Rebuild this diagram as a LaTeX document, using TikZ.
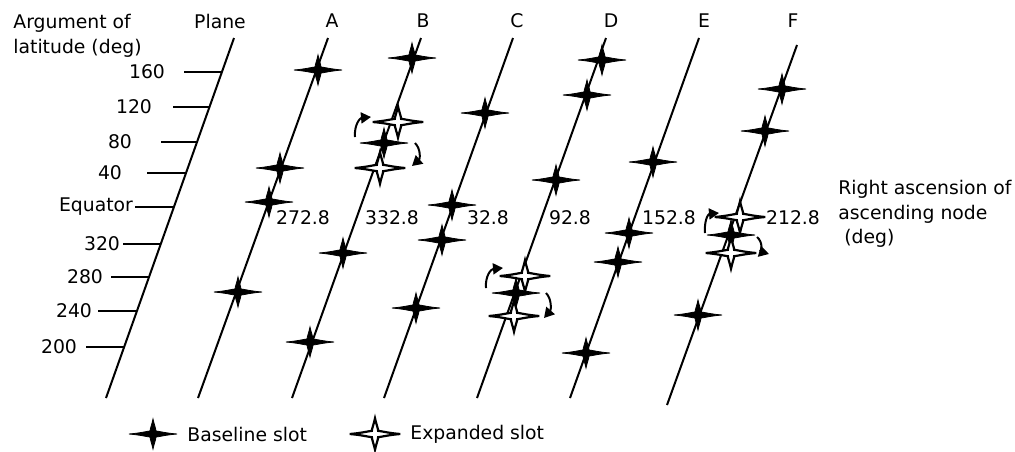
\documentclass[tikz,border=0pt]{standalone}
\usepackage{fontspec}
\setmainfont{DejaVu Sans}
\usetikzlibrary{arrows.meta}
\newcommand{\Slot}{(24,0) .. controls (12,1) and (5,3) .. (3,3) .. controls (3,5) and (1,10) .. (0,15)
  .. controls (-1,10) and (-3,5) .. (-3,3) .. controls (-5,3) and (-12,1) .. (-24,0)
  .. controls (-12,-1) and (-5,-3) .. (-3,-3) .. controls (-3,-5) and (-1,-10) .. (0,-15)
  .. controls (1,-10) and (3,-5) .. (3,-3) .. controls (5,-3) and (12,-1) .. cycle}
\tikzset{
  orbit/.style={line width=1pt},
  lat/.style={line width=1pt},
  lbl/.style={font=\fontsize{9.4}{12.2}\selectfont, inner sep=0pt},
  slide/.style={-{Triangle[length=5pt, width=5.5pt]}, line width=1pt},
  base slot/.pic={\filldraw[line width=0.4pt] \Slot;},
  wide slot/.pic={\filldraw[fill=white, line width=1.1pt, scale=1.05] \Slot;},
}

\begin{document}
\begin{tikzpicture}[x=0.5pt, y=-0.5pt]
    \useasboundingbox (0,0) rectangle (1015,451);
    % headings
    \node[lbl, anchor=north west, align=left] (arg) at (13,14) {Argument of\\latitude (deg)};
    \node[lbl] (pl) at (220,21) {Plane};
    \node[lbl] (a) at (332,21) {A};
    \node[lbl] (b) at (423,21) {B};
    \node[lbl] (c) at (517,21) {C};
    \node[lbl] (d) at (611,21) {D};
    \node[lbl] (e) at (704,21) {E};
    \node[lbl] (f) at (793,21) {F};
    \node[lbl, anchor=north west, align=left] (ra) at (838,180) {Right ascension of\\ascending node\\\ (deg)};
    % latitude scale
    \node[lbl] (t160) at (147,72)  {160};     \draw[lat] (184,72) -- (222,72);
    \node[lbl] (t120) at (134,107) {120};     \draw[lat] (173,107) -- (210,107);
    \node[lbl] (t80)  at (120,142) {80};      \draw[lat] (161,142) -- (198,142);
    \node[lbl] (t40)  at (110,173) {40};      \draw[lat] (147,173) -- (186,173);
    \node[lbl] (teq)  at (96,207)  {Equator}; \draw[lat] (135,207) -- (174,207);
    \node[lbl] (t320) at (102,244) {320};     \draw[lat] (123,244) -- (161,244);
    \node[lbl] (t280) at (85,277)  {280};     \draw[lat] (111,277) -- (149,277);
    \node[lbl] (t240) at (74,311)  {240};     \draw[lat] (98,311) -- (137,311);
    \node[lbl] (t200) at (59,347)  {200};     \draw[lat] (86,347) -- (124,347);
    % orbit planes
    \draw[orbit] (234,38) -- (106,398);
    \draw[orbit] (328,38) -- (198,398);
    \draw[orbit] (421,38) -- (292,398);
    \draw[orbit] (513,38) -- (384,398);
    \draw[orbit] (606,38) -- (477,398);
    \draw[orbit] (699,38) -- (570,398);
    \draw[orbit] (797,45) -- (667,405);
    % ascending nodes
    \node[lbl] (na) at (303,218) {272.8};
    \node[lbl] (nb) at (392,218) {332.8};
    \node[lbl] (nc) at (488,218) {32.8};
    \node[lbl] (nd) at (570,218) {92.8};
    \node[lbl] (ne) at (669,218) {152.8};
    \node[lbl] (nf) at (793,218) {212.8};
    % plane A
    \pic at (318,70) {base slot};
    \pic at (280,168) {base slot};
    \pic at (269,202) {base slot};
    \pic at (238,292) {base slot};
    % plane B
    \pic at (412,58) {base slot};
    \pic at (398,122) {wide slot};
    \pic at (384,143) {base slot};
    \pic at (380,168) {wide slot};
    \pic at (343,253) {base slot};
    \pic at (310,342) {base slot};
    \draw[slide] (355,137) .. controls (354,125) and (360,118) .. (371,117);
    \draw[slide] (415,143) .. controls (421,149) and (420,159) .. (412,166);
    % plane C
    \pic at (485,113) {base slot};
    \pic at (452,205) {base slot};
    \pic at (442,240) {base slot};
    \pic at (416,308) {base slot};
    % plane D
    \pic at (602,60) {base slot};
    \pic at (587,95) {base slot};
    \pic at (556,180) {base slot};
    \pic at (525,276) {wide slot};
    \pic at (516,293) {base slot};
    \pic at (514,316) {wide slot};
    \draw[slide] (486,288) .. controls (485,276) and (491,269) .. (503,268);
    \draw[slide] (546,293) .. controls (552,299) and (551,310) .. (544,318);
    % plane E
    \pic at (653,162) {base slot};
    \pic at (629,233) {base slot};
    \pic at (618,262) {base slot};
    \pic at (586,353) {base slot};
    % plane F
    \pic at (782,89) {base slot};
    \pic at (765,131) {base slot};
    \pic at (740,217) {wide slot};
    \pic at (731,235) {base slot};
    \pic at (731,253) {wide slot};
    \pic at (698,315) {base slot};
    \draw[slide] (705,233) .. controls (704,221) and (708,214) .. (719,213);
    \draw[slide] (757,237) .. controls (763,242) and (762,252) .. (769,254);
    % legend
    \pic at (153,434) {base slot};
    \node[lbl, anchor=west] (lgb) at (187,434) {Baseline slot};
    \pic at (375,434) {wide slot};
    \node[lbl, anchor=west] (lgx) at (410,434) {Expanded slot};
\end{tikzpicture}
\end{document}
